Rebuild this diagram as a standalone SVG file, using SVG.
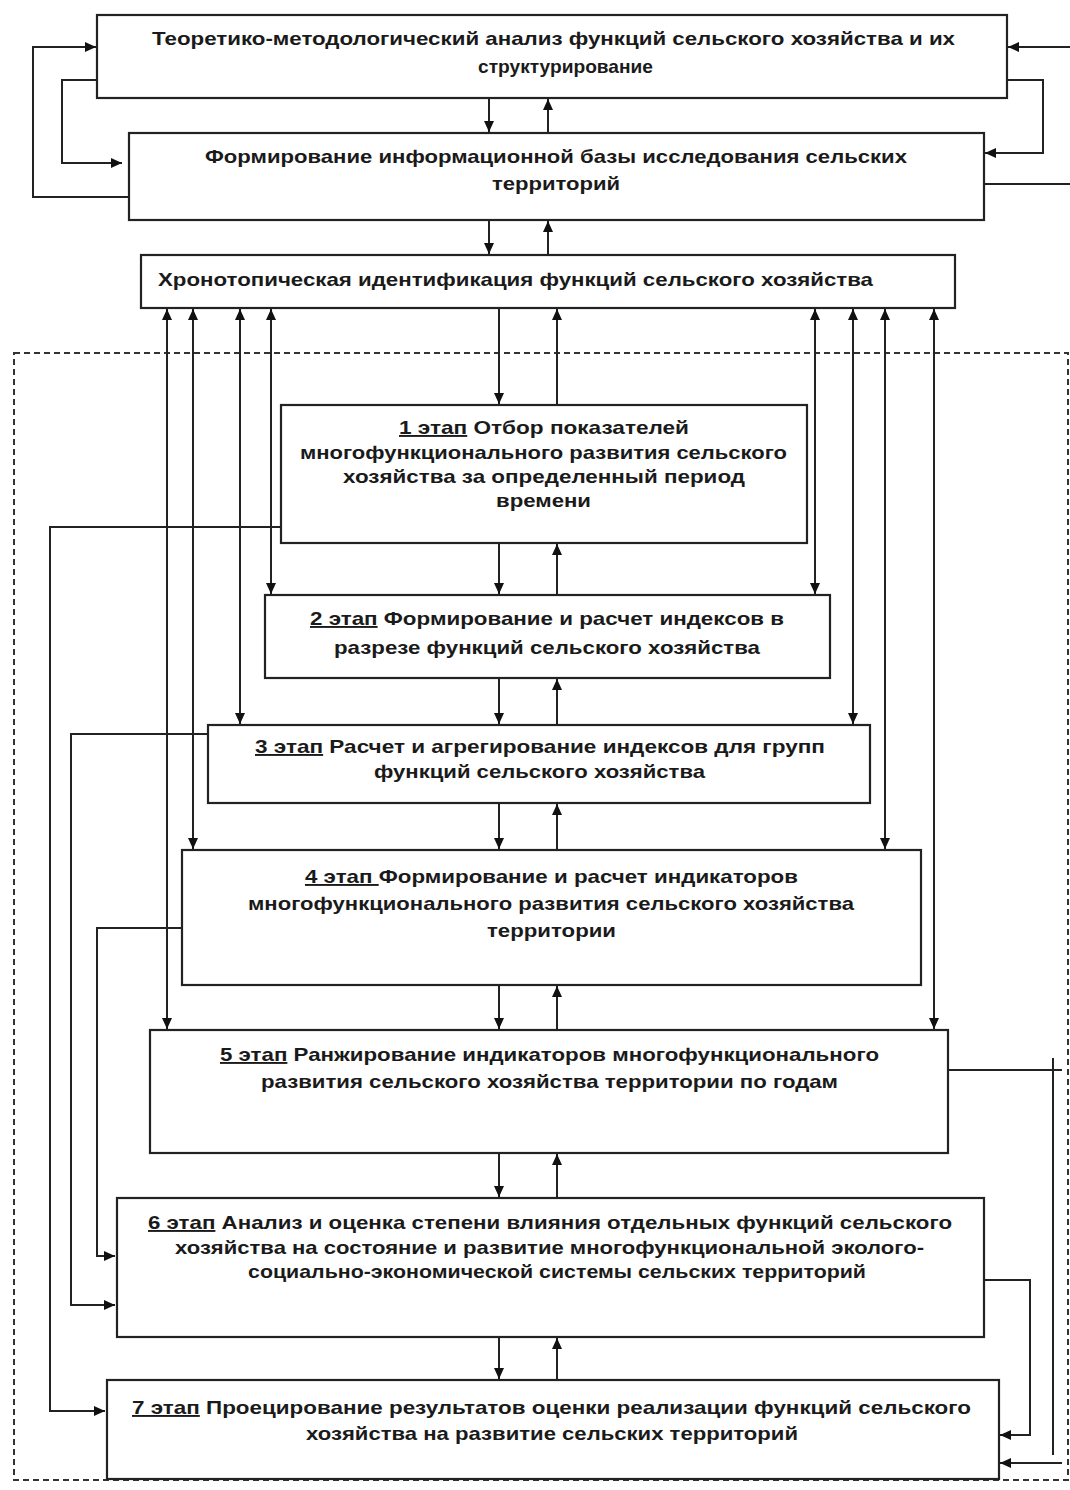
<svg xmlns="http://www.w3.org/2000/svg" width="1070" height="1490" viewBox="0 0 1070 1490">
<defs>
<marker id="ah" markerUnits="userSpaceOnUse" markerWidth="11" markerHeight="10" refX="11" refY="5" orient="auto-start-reverse">
<path d="M0,0 L11,5 L0,10 z" fill="#111"/>
</marker>
<style>
.box{fill:#fff;stroke:#222;stroke-width:2.2}
.ln{fill:none;stroke:#222;stroke-width:2}
.ar{fill:none;stroke:#222;stroke-width:2;marker-end:url(#ah)}
.bi{fill:none;stroke:#222;stroke-width:2;marker-start:url(#ah);marker-end:url(#ah)}
.dash{fill:none;stroke:#333;stroke-width:2;stroke-dasharray:6 4}
text{font-family:"Liberation Sans",Arial,sans-serif;font-size:19px;font-weight:bold;fill:#1a1a1a}
.u{text-decoration:underline}
</style>
</defs>
<rect width="1070" height="1490" fill="#fff"/>
<rect class="dash" x="14" y="353" width="1054" height="1127"/>

<g id="connectors">
<line class="ar" x1="489" y1="98" x2="489" y2="132"/>
<line class="ar" x1="548" y1="133" x2="548" y2="99"/>
<line class="ar" x1="489" y1="220" x2="489" y2="254"/>
<line class="ar" x1="548" y1="255" x2="548" y2="221"/>
<line class="ar" x1="499" y1="308" x2="499" y2="404"/>
<line class="ar" x1="557" y1="405" x2="557" y2="309"/>
<line class="ar" x1="499" y1="543" x2="499" y2="594"/>
<line class="ar" x1="557" y1="595" x2="557" y2="544"/>
<line class="ar" x1="499" y1="678" x2="499" y2="724"/>
<line class="ar" x1="557" y1="725" x2="557" y2="679"/>
<line class="ar" x1="499" y1="803" x2="499" y2="849"/>
<line class="ar" x1="557" y1="850" x2="557" y2="804"/>
<line class="ar" x1="499" y1="985" x2="499" y2="1029"/>
<line class="ar" x1="557" y1="1030" x2="557" y2="986"/>
<line class="ar" x1="499" y1="1153" x2="499" y2="1197"/>
<line class="ar" x1="557" y1="1198" x2="557" y2="1154"/>
<line class="ar" x1="499" y1="1337" x2="499" y2="1379"/>
<line class="ar" x1="557" y1="1380" x2="557" y2="1338"/>

<path class="ar" d="M129,197 H33 V47 H96"/>
<path class="ar" d="M97,80 H62 V163 H122"/>
<path class="ar" d="M1070,47 H1008"/>
<path class="ar" d="M1007,80 H1043 V153 H985"/>
<path class="ln" d="M984,184 H1070"/>

<line class="bi" x1="167" y1="309" x2="167" y2="1029"/>
<line class="bi" x1="193" y1="309" x2="193" y2="849"/>
<line class="bi" x1="240" y1="309" x2="240" y2="724"/>
<line class="bi" x1="271" y1="309" x2="271" y2="594"/>
<line class="bi" x1="815" y1="309" x2="815" y2="594"/>
<line class="bi" x1="853" y1="309" x2="853" y2="724"/>
<line class="bi" x1="885" y1="309" x2="885" y2="849"/>
<line class="bi" x1="934" y1="309" x2="934" y2="1029"/>

<path class="ar" d="M281,527 H50 V1411 H105"/>
<path class="ar" d="M208,734 H71 V1305 H115"/>
<path class="ar" d="M182,928 H97 V1256 H115"/>
<path class="ln" d="M948,1070 H1062"/>
<path class="ln" d="M1053,1058 V1455"/>
<path class="ar" d="M1062,1463 H1000"/>
<path class="ar" d="M984,1280 H1030 V1435 H1000"/>
</g>

<g id="nodeA">
<rect class="box" x="97" y="15" width="910" height="83"/>
<text x="152" y="45" textLength="803" lengthAdjust="spacingAndGlyphs">Теоретико-методологический анализ функций сельского хозяйства и их</text>
<text x="478" y="73" textLength="175" lengthAdjust="spacingAndGlyphs">структурирование</text>
</g>
<g id="nodeB">
<rect class="box" x="129" y="133" width="855" height="87"/>
<text x="205" y="163" textLength="702" lengthAdjust="spacingAndGlyphs">Формирование информационной базы исследования сельских</text>
<text x="492" y="190" textLength="128" lengthAdjust="spacingAndGlyphs">территорий</text>
</g>
<g id="nodeC">
<rect class="box" x="141" y="255" width="814" height="53"/>
<text x="158" y="286" textLength="715" lengthAdjust="spacingAndGlyphs">Хронотопическая идентификация функций сельского хозяйства</text>
</g>
<g id="stage1">
<rect class="box" x="281" y="405" width="526" height="138"/>
<text x="399" y="434" textLength="290" lengthAdjust="spacingAndGlyphs"><tspan class="u">1 этап</tspan> Отбор показателей</text>
<text x="300" y="459" textLength="487" lengthAdjust="spacingAndGlyphs">многофункционального развития сельского</text>
<text x="343" y="483" textLength="402" lengthAdjust="spacingAndGlyphs">хозяйства за определенный период</text>
<text x="496" y="507" textLength="95" lengthAdjust="spacingAndGlyphs">времени</text>
</g>
<g id="stage2">
<rect class="box" x="265" y="595" width="565" height="83"/>
<text x="310" y="625" textLength="474" lengthAdjust="spacingAndGlyphs"><tspan class="u">2 этап</tspan> Формирование и расчет индексов в</text>
<text x="334" y="654" textLength="426" lengthAdjust="spacingAndGlyphs">разрезе функций сельского хозяйства</text>
</g>
<g id="stage3">
<rect class="box" x="208" y="725" width="662" height="78"/>
<text x="255" y="753" textLength="570" lengthAdjust="spacingAndGlyphs"><tspan class="u">3 этап</tspan> Расчет и агрегирование индексов для групп</text>
<text x="374" y="778" textLength="331" lengthAdjust="spacingAndGlyphs">функций сельского хозяйства</text>
</g>
<g id="stage4">
<rect class="box" x="182" y="850" width="739" height="135"/>
<text x="305" y="883" textLength="493" lengthAdjust="spacingAndGlyphs"><tspan class="u">4 этап </tspan>Формирование и расчет индикаторов</text>
<text x="248" y="910" textLength="606" lengthAdjust="spacingAndGlyphs">многофункционального развития сельского хозяйства</text>
<text x="487" y="937" textLength="129" lengthAdjust="spacingAndGlyphs">территории</text>
</g>
<g id="stage5">
<rect class="box" x="150" y="1030" width="798" height="123"/>
<text x="220" y="1061" textLength="659" lengthAdjust="spacingAndGlyphs"><tspan class="u">5 этап</tspan> Ранжирование индикаторов многофункционального</text>
<text x="261" y="1088" textLength="577" lengthAdjust="spacingAndGlyphs">развития сельского хозяйства территории по годам</text>
</g>
<g id="stage6">
<rect class="box" x="117" y="1198" width="867" height="139"/>
<text x="148" y="1229" textLength="804" lengthAdjust="spacingAndGlyphs"><tspan class="u">6 этап</tspan> Анализ и оценка степени влияния отдельных функций сельского</text>
<text x="175" y="1254" textLength="749" lengthAdjust="spacingAndGlyphs">хозяйства на состояние и развитие многофункциональной эколого-</text>
<text x="248" y="1278" textLength="618" lengthAdjust="spacingAndGlyphs">социально-экономической системы сельских территорий</text>
</g>
<g id="stage7">
<rect class="box" x="107" y="1380" width="892" height="99"/>
<text x="132" y="1414" textLength="839" lengthAdjust="spacingAndGlyphs"><tspan class="u">7 этап</tspan> Проецирование результатов оценки реализации функций сельского</text>
<text x="306" y="1440" textLength="492" lengthAdjust="spacingAndGlyphs">хозяйства на развитие сельских территорий</text>
</g>
</svg>
